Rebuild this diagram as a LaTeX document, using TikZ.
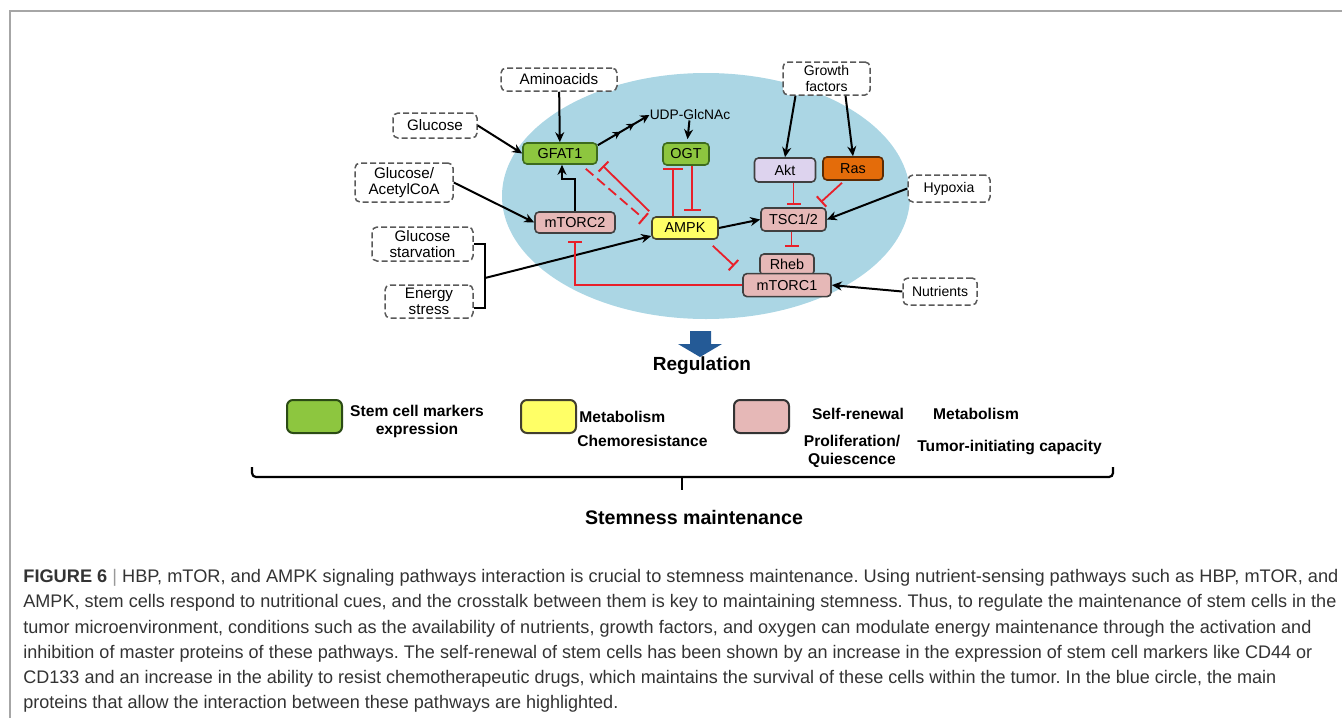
\documentclass[tikz,border=0pt]{standalone}
\usepackage{fontspec}
\setmainfont{Liberation Sans}
\newfontfamily\capfont{Liberation Sans}
\usetikzlibrary{positioning,arrows.meta,calc}
\frenchspacing
\newcommand{\fitline}[2]{\resizebox{#1}{\height}{#2}}

\definecolor{cellblue}{HTML}{ABD6E4}
\definecolor{gfatgreen}{HTML}{8DC63F}
\definecolor{darkgreen}{HTML}{3D6B1E}
\definecolor{ampkyellow}{HTML}{FFFF66}
\definecolor{pinkbox}{HTML}{E6B8B7}
\definecolor{aktlilac}{HTML}{DDD3EE}
\definecolor{rasorange}{HTML}{E46C0A}
\definecolor{inhred}{HTML}{E8202A}
\definecolor{arrowblue}{HTML}{245A96}

\tikzset{
  cue/.style={draw=black!65, dash pattern=on 3pt off 1.5pt, line width=0.75pt,
    rounded corners=2.5pt, fill=white, inner sep=0pt, align=center,
    font=\fontsize{7.6}{8.2}\selectfont},
  protein/.style={draw=black!75, line width=0.8pt, rounded corners=2pt,
    inner sep=0pt, font=\fontsize{7.2}{8}\selectfont},
  keybox/.style={draw=black!80, line width=1pt, rounded corners=3pt,
    minimum width=27.5pt, minimum height=16.5pt},
  act/.style={-{Stealth[length=5pt,width=4.5pt]}, line width=1pt},
  inhib/.style={-{Bar[width=7pt,line width=1pt]}, draw=inhred, line width=0.9pt},
  legend/.style={font=\bfseries\fontsize{7.8}{8.8}\selectfont, align=center, inner sep=0pt},
  capline/.style={anchor=base west, inner sep=0pt, text=black!80,
    font=\capfont\fontsize{9.1}{11}\selectfont}
}

\begin{document}
\begin{tikzpicture}[x=0.5pt,y=-0.5pt]
    \useasboundingbox (0,0) rectangle (1342,718);
    \draw[black!35, line width=0.8pt] (10,718) -- (10,11) -- (1342,11);

    % cell
    \fill[cellblue] (706,196) ellipse [x radius=102pt, y radius=61.5pt];

    % inputs
    \node[cue, minimum width=58pt, minimum height=11.5pt] (amino) at (559,79.5) {Aminoacids};
    \node[cue, minimum width=42pt, minimum height=12.5pt] (glucose) at (435,125.5) {Glucose};
    \node[cue, minimum width=49pt, minimum height=19.5pt] (glcacoa) at (404,182.5) {Glucose/\\AcetylCoA};
    \node[cue, minimum width=50.5pt, minimum height=17pt] (gstarv) at (422.5,244) {Glucose\\starvation};
    \node[cue, minimum width=44pt, minimum height=16.5pt] (estress) at (429,301.5) {Energy\\stress};
    \node[cue, minimum width=43.5pt, minimum height=16.5pt, font=\fontsize{7}{7.8}\selectfont] (growth) at (826.5,78.5) {Growth\\factors};
    \node[cue, minimum width=41pt, minimum height=13.5pt, font=\fontsize{7}{8}\selectfont] (hypoxia) at (949,188.5) {Hypoxia};
    \node[cue, minimum width=37pt, minimum height=13.5pt, font=\fontsize{7}{8}\selectfont] (nutrients) at (940,291.5) {Nutrients};

    % proteins
    \node[protein, fill=gfatgreen, draw=darkgreen, minimum width=37pt, minimum height=10.5pt] (gfat) at (560,153.5) {GFAT1};
    \node[protein, fill=gfatgreen, draw=darkgreen, minimum width=23pt, minimum height=11pt] (ogt) at (686,154) {OGT};
    \node[inner sep=0pt, font=\fontsize{6.9}{8}\selectfont] (udp) at (690,115) {UDP-GlcNAc};
    \node[protein, fill=ampkyellow, draw=black!65!olive, minimum width=33pt, minimum height=11pt] (ampk) at (685,228) {AMPK};
    \node[protein, fill=pinkbox, minimum width=40pt, minimum height=10.5pt] (mtorc2) at (575,222.5) {mTORC2};
    \node[protein, fill=aktlilac, minimum width=30.5pt, minimum height=12pt] (akt) at (785,170) {Akt};
    \node[protein, fill=rasorange, draw=black!60!rasorange, minimum width=30pt, minimum height=11.5pt] (ras) at (853,168.5) {Ras};
    \node[protein, fill=pinkbox, minimum width=32.5pt, minimum height=11.5pt] (tsc) at (793.5,219.5) {TSC1/2};
    \node[protein, fill=pinkbox, minimum width=27pt, minimum height=10.5pt] (rheb) at (787,264.5) {Rheb};
    \node[protein, fill=pinkbox, minimum width=44pt, minimum height=11.5pt] (mtorc1) [below=-1.5pt of rheb] {mTORC1};

    % activation
    \draw[act] (amino) -- (gfat);
    \draw[act] (glucose.east) -- (gfat.west);
    \draw[act] (glcacoa.east) -- (mtorc2.west);
    \draw[act, line width=1.2pt] (mtorc2.north) -- ++(0,-32) -| ($(gfat.south)+(2,0)$);
    \draw[line width=1pt, -{Stealth[length=4pt,width=4pt,sep=4pt]Stealth[length=4pt,width=4pt,sep=4pt]Stealth[length=4.5pt,width=4.5pt]}]
        ($(gfat.north east)+(0,3)$) -- (udp.west);
    \draw[act, shorten >=1.5pt] (udp) -- (ogt);
    \draw[act] (ampk.east) -- (tsc.west);
    \draw[act] ($(growth.south)+(-31,0)$) -- (akt.north);
    \draw[act] ($(growth.south)+(19,0)$) -- (ras.north);
    \draw[act] (hypoxia.west) -- (tsc.east);
    \draw[act] (nutrients.west) -- (mtorc1.east);
    \coordinate (brk) at (485,278);
    \draw[line width=1pt] (gstarv.east) -| (brk) |- ($(estress.east)+(0,6)$);
    \draw[act] (brk) -- ($(ampk.west)+(0,8)$);

    % inhibition
    \draw[inhib, dash pattern=on 5pt off 2.5pt] ($(gfat.south east)+(-12,4)$) -- ($(ampk.north west)+(-7,3)$);
    \draw[inhib] ($(ampk.north west)+(-2,-5)$) -- ($(gfat.south east)+(5,1)$);
    \draw[inhib, -{Bar[width=10pt,line width=1.2pt]}] ($(ampk.north)+(-12,0)$) -- ($(ogt.south)+(-13,2)$);
    \draw[inhib, -{Bar[width=8.5pt,line width=1.2pt]}] ($(ogt.south)+(6,0)$) -- ($(ampk.north)+(7,-5)$);
    \draw[inhib] ($(ampk.south east)+(-6,6)$) -- ($(mtorc1.north west)+(-8,-7)$);
    \draw[inhib] (mtorc1.west) -| ($(mtorc2.south)+(0,7)$);
    \draw[inhib] (tsc.north |- akt.south) -- ($(tsc.north)+(0,-2)$);
    \draw[inhib] ($(ras.south)+(-11,2)$) -- ($(tsc.north east)+(-6,-5)$);
    \draw[inhib] ($(tsc.south)+(-2,0)$) -- ($(tsc.south |- rheb.north)+(-2,-6)$);

    % regulation
    \fill[arrowblue] (690,331) -- (711,331) -- (711,344) -- (722,344) -- (700,357)
        -- (678,344) -- (690,344) -- cycle;
    \node[font=\bfseries\fontsize{9.5}{11}\selectfont, inner sep=0pt] (regul) at (702,366) {Regulation};

    % legend
    \node[keybox, fill=gfatgreen, draw=darkgreen!70!black] (keygreen) at (314.5,416.5) {};
    \node[legend] (stemtxt) at (417,421.5) {Stem cell markers\\expression};
    \node[keybox, fill=ampkyellow, draw=black!70!olive] (keyyellow) at (548.5,416.5) {};
    \node[legend, anchor=west] (metab1) at (579,417) {Metabolism};
    \node[legend, anchor=west] (chemo) at (577,441) {Chemoresistance};
    \node[keybox, fill=pinkbox] (keypink) at (761.5,416.5) {};
    \node[legend] (selfren) at (858,414) {Self-renewal};
    \node[legend, font=\bfseries\fontsize{7.8}{9}\selectfont] (prolif) at (852,451) {Proliferation/\\Quiescence};
    \node[legend] (metab2) at (976,414) {Metabolism};
    \node[legend] (tumorinit) at (1009.5,447) {Tumor-initiating capacity};

    \coordinate (brl) at (252,467);
    \coordinate (brr) at (1113,467);
    \coordinate (brm) at (682,477);
    \draw[line width=1.1pt, rounded corners=2pt] (brl) |- (brm) -| (brr);
    \draw[line width=1.1pt] (brm) -- ++(0,13);
    \node[font=\bfseries\fontsize{9.8}{11}\selectfont, inner sep=0pt] (stemness) at (694,517) {Stemness maintenance};

    % caption
    \node[capline] (cap1) at (23,582) {\fitline{657.5pt}{\textbf{FIGURE 6} {\color{black!40}|} HBP, mTOR, and AMPK signaling pathways interaction is crucial to stemness maintenance. Using nutrient-sensing pathways such as HBP, mTOR, and}};
    \node[capline] (cap2) at (23,607.5) {\fitline{656.5pt}{AMPK, stem cells respond to nutritional cues, and the crosstalk between them is key to maintaining stemness. Thus, to regulate the maintenance of stem cells in the}};
    \node[capline] (cap3) at (23,633) {\fitline{644pt}{tumor microenvironment, conditions such as the availability of nutrients, growth factors, and oxygen can modulate energy maintenance through the activation and}};
    \node[capline] (cap4) at (23,658) {\fitline{644.5pt}{inhibition of master proteins of these pathways. The self-renewal of stem cells has been shown by an increase in the expression of stem cell markers like CD44 or}};
    \node[capline] (cap5) at (23,683) {\fitline{626.5pt}{CD133 and an increase in the ability to resist chemotherapeutic drugs, which maintains the survival of these cells within the tumor. In the blue circle, the main}};
    \node[capline] (cap6) at (23,708.5) {\scalebox{0.99}[1]{proteins that allow the interaction between these pathways are highlighted.}};
\end{tikzpicture}
\end{document}
